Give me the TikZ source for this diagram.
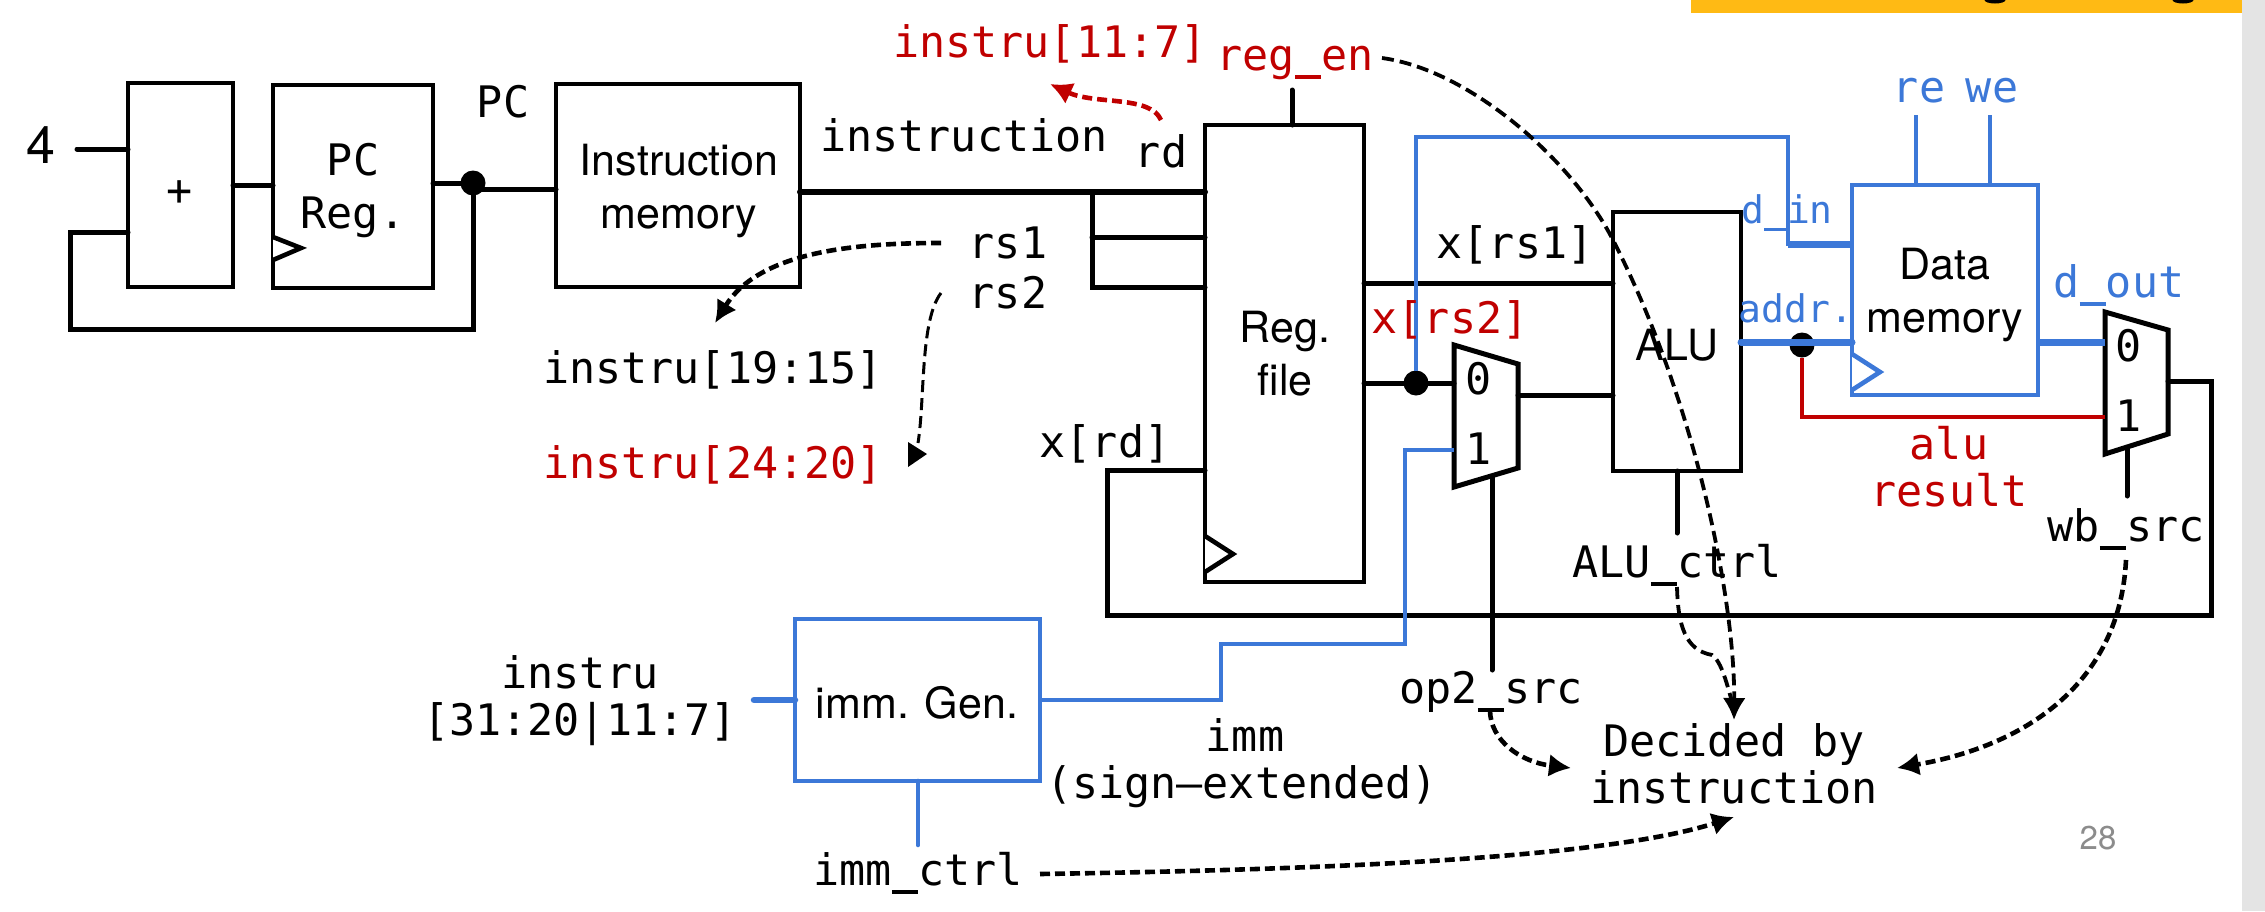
\documentclass[tikz,border=0pt]{standalone}
\usepackage{fontspec}
\usetikzlibrary{arrows.meta}
\newfontfamily\mn{DejaVu Sans Mono}
\newfontfamily\sn{TeX Gyre Heros}
\newcommand\us{\rule[-0.2em]{0.602em}{0.08em}}
\definecolor{bl}{HTML}{3C78D8}
\definecolor{rd}{HTML}{C00000}
\definecolor{gold}{HTML}{FFBA14}
\definecolor{strip}{HTML}{E4E4E4}
\tikzset{
  wire/.style={line width=5pt,line cap=round,line join=miter},
  bwire/.style={line width=4.6pt,color=bl,line cap=butt,line join=miter},
  boxk/.style={draw,line width=4.6pt,inner sep=0,outer sep=0,anchor=north west},
  boxb/.style={boxk,draw=bl},
  mono/.style={font=\mn\fontsize{43.4}{47}\selectfont,inner sep=0,outer sep=0,anchor=base,align=center},
  monos/.style={font=\mn\fontsize{38}{46}\selectfont,inner sep=0,outer sep=0,anchor=base,align=center},
  sans/.style={font=\sn\fontsize{43}{53}\selectfont,inner sep=0,outer sep=0,anchor=base,align=center},
  dot/.style={circle,fill=black,inner sep=0,outer sep=0,minimum size=25pt},
  dashk/.style={line width=4.6pt,dash pattern=on 10pt off 5pt},
  dasht/.style={line width=3.8pt,dash pattern=on 12pt off 6pt},
  tip/.style={-{Latex[length=22pt,width=23pt]}},
  clk/.style={line width=4.6pt,line join=miter,fill=white},
}
\begin{document}
\begin{tikzpicture}[x=1pt,y=-1pt]
\useasboundingbox (0,0) rectangle (2265,911);
\fill[white] (0,0) rectangle (2265,911);
\fill[strip] (2242,0) rectangle (2265,911);
\fill[gold] (1691,0) rectangle (2242,13);
\fill[black] (1995,0) ellipse (10.5 and 3.5);
\fill[black] (2183,0) ellipse (10.5 and 3.5);

% boxes
\node[boxk,minimum width=105pt,minimum height=204pt] (add) at (128,83) {};
\node[boxk,minimum width=160pt,minimum height=203pt] (pcreg) at (273,85) {};
\node[boxk,minimum width=244pt,minimum height=203pt] (imem) at (556,84) {};
\node[boxk,minimum width=159pt,minimum height=457pt] (regf) at (1205,125) {};
\node[boxk,minimum width=128pt,minimum height=259pt] (alu) at (1613,212) {};
\node[boxb,minimum width=186pt,minimum height=210pt] (dmem) at (1852,185) {};
\node[boxb,minimum width=245pt,minimum height=162pt] (immg) at (795,619) {};

% muxes
\coordinate (ma) at (1454,345); \coordinate (mb) at (1518,364);
\coordinate (mc) at (1518,468); \coordinate (md) at (1454,487);
\draw[wire] (ma) -- (mb) -- (mc) -- (md) -- cycle;
\coordinate (na) at (2105,312); \coordinate (nb) at (2168,330);
\coordinate (nc) at (2168,434); \coordinate (nd) at (2105,454);
\draw[wire] (na) -- (nb) -- (nc) -- (nd) -- cycle;

% clock marks
\coordinate (ca) at (273,237); \coordinate (cb) at (301,248); \coordinate (cc) at (273,260);
\draw[clk] (ca) -- (cb) -- (cc);
\coordinate (da) at (1205,536); \coordinate (db) at (1233,554); \coordinate (dc) at (1205,572);
\draw[clk] (da) -- (db) -- (dc);
\coordinate (ea) at (1852,354); \coordinate (eb) at (1880,372); \coordinate (ec) at (1852,390);
\draw[clk,draw=bl] (ea) -- (eb) -- (ec);

% dots
\node[dot] (pcdot) at (473,183) {};
\node[dot] (rs2dot) at (1416,383) {};
\node[dot] (addrdot) at (1802,345) {};

% free ends
\coordinate (four) at (77,149);
\coordinate (addin) at (128,149);
\coordinate (fb) at (128,232);
\coordinate (pcin) at (273,185);
\coordinate (imin) at (556,189);
\coordinate (imout) at (800,192);
\coordinate (rdin) at (1205,192);
\coordinate (rs1in) at (1205,237);
\coordinate (rs2in) at (1205,287);
\coordinate (busx) at (1092,192);
\coordinate (regenend) at (1292,90);
\coordinate (xrdin) at (1205,470);
\coordinate (rs1out) at (1364,283);
\coordinate (rs2out) at (1364,383);
\coordinate (muxin0) at (1454,383);
\coordinate (muxin1) at (1454,450);
\coordinate (muxout) at (1518,395);
\coordinate (aluctrl) at (1677,533);
\coordinate (alua) at (1741,342);
\coordinate (dmaddr) at (1852,342);
\coordinate (dmdin) at (1852,244);
\coordinate (reend) at (1916,115);
\coordinate (weend) at (1990,115);
\coordinate (dout) at (2038,342);
\coordinate (nin0) at (2105,342);
\coordinate (nin1) at (2105,417);
\coordinate (nout) at (2168,381);
\coordinate (wbend) at (2127,496);
\coordinate (opsel) at (1492,477);
\coordinate (opend) at (1492,670);
\coordinate (immin) at (754,700);
\coordinate (immout) at (1040,700);
\coordinate (immctl) at (918,845);

% black wires
\draw[wire] (four) -- (addin);
\draw[wire] (add.east |- pcin) -- (pcin);
\draw[wire] (pcreg.east |- pcdot) -- (pcdot) ;
\draw[wire] (pcdot) -- (pcdot |- imin) -- (imin);
\draw[wire] (pcdot) |- (70,329) |- (fb);
\draw[wire,line width=6pt] (imout) -- (rdin);
\draw[wire] (busx) |- (rs2in);
\draw[wire] (busx |- rs1in) -- (rs1in);
\draw[wire] (rs1out) -- (alu.west |- rs1out);
\draw[wire] (rs2out) -- (muxin0);
\draw[wire] (muxout) -- (alu.west |- muxout);
\draw[wire] (regf.north -| regenend) -- (regenend);
\draw[wire] (alu.south) -- (aluctrl);
\draw[wire] (opsel) -- (opend);
\draw[wire] (nc -| wbend) ++(0,15) -- (wbend);
\draw[wire] (nout) -| (2211,615) -| (1107,470) -- (xrdin);

% blue wires
\draw[bwire] (rs2dot) |- (1788,137) |- (dmdin);
\draw[bwire,line width=7pt] (1788,244) -- (dmdin);
\draw[bwire,line width=7pt,line cap=round] (alua) -- (dmaddr);
\draw[bwire,line width=7pt] (dout) -- (nin0);
\draw[bwire] (reend) -- (reend |- dmem.north);
\draw[bwire] (weend) -- (weend |- dmem.north);
\draw[bwire,line width=6.5pt,line cap=round] (immin) -- (immg.west |- immin);
\draw[bwire] (immout) -| (1221,644) -| (1405,450) -- (muxin1);
\draw[bwire,line cap=round] (immg.south -| immctl) -- (immctl);

% red wire
\draw[line width=4.8pt,rd] (addrdot) |- (nin1);

% labels
\node[sans,font=\sn\fontsize{52}{52}\selectfont] (l4) at (41,163) {4};
\node[mono] (lplus) at (180,205) {+};
\node[mono] (lpcr) at (353,228) {PC\\[6pt]Reg.};
\node[mono] (lpc) at (503,117) {PC};
\node[sans] (limem) at (679,228) {Instruction\\memory};
\node[mono] (linstr) at (964,151) {instruction};
\node[mono,text=rd] (l117) at (1050,57) {instru[11:7]};
\node[mono,text=rd] (lregen) at (1295,70) {reg\us en};
\node[mono] (lrd) at (1161,167) {rd};
\node[mono] (lrs1) at (1008,258) {rs1};
\node[mono] (lrs2) at (1008,308) {rs2};
\node[mono] (l1915) at (713,383) {instru[19:15]};
\node[mono,text=rd] (l2420) at (713,478) {instru[24:20]};
\node[mono] (lxrd) at (1105,457) {x[rd]};
\node[sans] (lregf) at (1285,395) {Reg.\\file};
\node[mono] (lxrs1) at (1515,258) {x[rs1]};
\node[mono,text=rd] (lxrs2) at (1450,333) {x[rs2]};
\node[mono] (lm0) at (1479,394) {0};
\node[mono] (lm1) at (1479,464) {1};
\node[sans] (lalu) at (1677,360) {ALU};
\node[monos,text=bl] (ldin) at (1787,223) {d\us in};
\node[monos,text=bl] (laddr) at (1796,322) {addr.};
\node[mono,text=bl] (lre) at (1919,102) {re};
\node[mono,text=bl] (lwe) at (1992,102) {we};
\node[sans] (ldm) at (1945,332) {Data\\memory};
\node[mono,text=bl] (ldout) at (2119,297) {d\us out};
\node[mono] (ln0) at (2129,361) {0};
\node[mono] (ln1) at (2129,431) {1};
\node[mono,text=rd] (lalur) at (1949,506) {alu\\result};
\node[mono] (lwb) at (2126,541) {wb\us src};
\node[mono] (lalc) at (1677,577) {ALU\us ctrl};
\node[mono] (lop) at (1491,703) {op2\us src};
\node[mono] (lins) at (580,735) {instru\\{}[31:20|11:7]};
\node[sans] (lgen) at (917,718) {imm. Gen.};
\node[mono] (limm) at (1245,751) {imm};
\node[mono] (lsign) at (1242,798) {(sign–extended)};
\node[mono] (lctl) at (918,885) {imm\us ctrl};
\node[mono] (ldec) at (1734,803) {Decided by\\instruction};
\node[font=\sn\fontsize{33}{33}\selectfont,text=black!45,inner sep=0,anchor=base] (lpage) at (2098,849) {28};

% dashed connectors
\coordinate (s1) at (1161,120); \coordinate (t1) at (1050,84);
\draw[dashk,rd,tip] (s1) .. controls (1150,95) and (1095,105) .. (t1);
\coordinate (s2) at (941,243); \coordinate (t2) at (715,323);
\draw[dashk,tip] (s2) .. controls (860,243) and (760,250) .. (t2);
\coordinate (s3) at (941,293); \coordinate (t3) at (918,443);
\draw[dasht,line width=3pt] (s3) .. controls (920,320) and (925,400) .. (t3);
\fill (927,454) -- (908,442) -- (908,467) -- cycle;
\coordinate (s4) at (1382,58); \coordinate (m4) at (1613,240); \coordinate (t4) at (1734,720);
\draw[dasht,tip] (s4) .. controls (1470,70) and (1572,160) .. (m4) .. controls (1695,400) and (1735,600) .. (t4);
\coordinate (s5) at (1677,587); \coordinate (m5) at (1712,655);
\draw[dasht] (s5) .. controls (1678,625) and (1685,650) .. (m5) .. controls (1722,662) and (1727,685) .. (1733,705);
\coordinate (s6) at (2126,560); \coordinate (t6) at (1897,768);
\draw[dashk,tip] (s6) .. controls (2120,680) and (2030,745) .. (t6);
\coordinate (s7) at (1490,710); \coordinate (t7) at (1571,768);
\draw[dashk,tip] (s7) .. controls (1490,740) and (1520,762) .. (t7);
\coordinate (s8) at (1040,874); \coordinate (t8) at (1734,817);
\draw[dashk,tip] (s8) .. controls (1300,870) and (1600,860) .. (t8);
\end{tikzpicture}
\end{document}
